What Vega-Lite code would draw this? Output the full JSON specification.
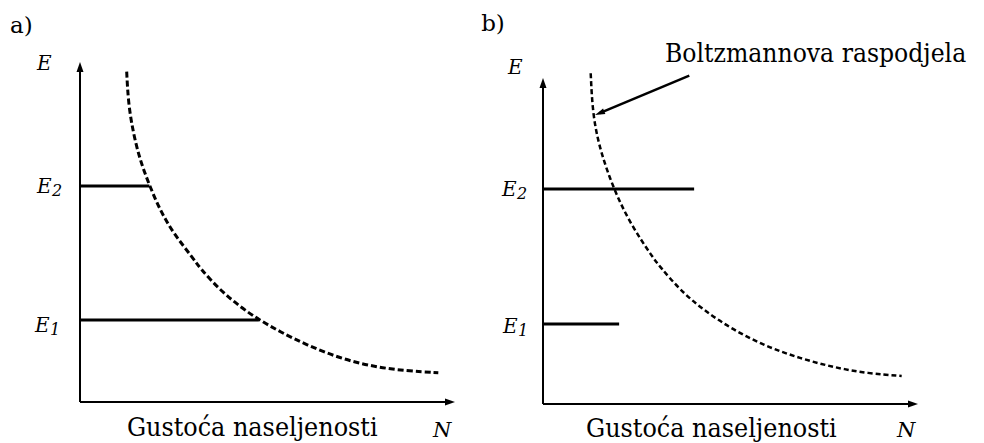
{
  "$schema": "https://vega.github.io/schema/vega-lite/v6.json",
  "padding": 0,
  "spacing": 0,
  "background": "white",
  "config": {"view": {"stroke": null}, "text": {"color": "black"}},
  "datasets": {
    "curve": [
      {"panel": "a", "N": 1.245, "E": 9.715},
      {"panel": "a", "N": 1.288, "E": 8.785},
      {"panel": "a", "N": 1.421, "E": 7.903},
      {"panel": "a", "N": 1.6, "E": 7.118},
      {"panel": "a", "N": 1.848, "E": 6.382},
      {"panel": "a", "N": 2.133, "E": 5.647},
      {"panel": "a", "N": 2.488, "E": 4.962},
      {"panel": "a", "N": 3.021, "E": 4.226},
      {"panel": "a", "N": 3.2, "E": 3.932},
      {"panel": "a", "N": 3.733, "E": 3.294},
      {"panel": "a", "N": 4.267, "E": 2.803},
      {"panel": "a", "N": 4.781, "E": 2.412},
      {"panel": "a", "N": 5.333, "E": 2.068},
      {"panel": "a", "N": 6.045, "E": 1.676},
      {"panel": "a", "N": 6.933, "E": 1.285},
      {"panel": "a", "N": 7.821, "E": 1.038},
      {"panel": "a", "N": 8.712, "E": 0.912},
      {"panel": "a", "N": 9.555, "E": 0.862},
      {"panel": "b", "N": 1.272, "E": 10.144},
      {"panel": "b", "N": 1.325, "E": 8.865},
      {"panel": "b", "N": 1.52, "E": 7.791},
      {"panel": "b", "N": 1.875, "E": 6.617},
      {"panel": "b", "N": 2.32, "E": 5.543},
      {"panel": "b", "N": 2.941, "E": 4.469},
      {"panel": "b", "N": 3.12, "E": 4.212},
      {"panel": "b", "N": 3.653, "E": 3.497},
      {"panel": "b", "N": 4.275, "E": 2.883},
      {"panel": "b", "N": 5.075, "E": 2.27},
      {"panel": "b", "N": 5.965, "E": 1.758},
      {"panel": "b", "N": 6.853, "E": 1.402},
      {"panel": "b", "N": 7.741, "E": 1.126},
      {"panel": "b", "N": 8.632, "E": 0.942},
      {"panel": "b", "N": 9.565, "E": 0.859}
    ],
    "levels": [
      {"panel": "a", "level": "E2", "N": 0, "Nend": 1.85, "E": 6.35, "Eend": 6.35},
      {"panel": "a", "level": "E1", "N": 0, "Nend": 4.77, "E": 2.41, "Eend": 2.41},
      {"panel": "b", "level": "E2", "N": 0, "Nend": 4.03, "E": 6.595, "Eend": 6.595},
      {"panel": "b", "level": "E1", "N": 0, "Nend": 2.03, "E": 2.454, "Eend": 2.454}
    ],
    "axes": [
      {"panel": "a", "axis": "E", "N": 0, "E": 0, "Nend": 0, "Eend": 9.85},
      {"panel": "a", "axis": "N", "N": 0, "E": 0, "Nend": 9.87, "Eend": 0},
      {"panel": "b", "axis": "E", "N": 0, "E": 0, "Nend": 0, "Eend": 9.85},
      {"panel": "b", "axis": "N", "N": 0, "E": 0, "Nend": 9.87, "Eend": 0}
    ],
    "heads": [
      {"panel": "a", "axis": "E", "N": 0, "E": 9.853},
      {"panel": "a", "axis": "N", "N": 9.867, "E": 0},
      {"panel": "b", "axis": "E", "N": 0, "E": 9.847},
      {"panel": "b", "axis": "N", "N": 9.867, "E": 0}
    ],
    "pointer": [
      {"panel": "b", "N": 3.901, "E": 10.07, "Nend": 1.51, "Eend": 8.924}
    ],
    "pointerHead": [
      {"panel": "b", "N": 1.51, "E": 8.924}
    ],
    "texts": [
      {"panel": "a", "role": "panel", "text": "a)", "N": -1.867, "E": 10.85},
      {"panel": "a", "role": "axis", "text": "E", "N": -1.147, "E": 9.76},
      {"panel": "a", "role": "axisN", "text": "N", "N": 9.41, "E": -1.03},
      {"panel": "a", "role": "title", "text": "Gustoća naseljenosti", "N": 1.25, "E": -1.0},
      {"panel": "a", "role": "level", "text": "E", "sub": "2", "N": -1.147, "E": 6.147},
      {"panel": "a", "role": "level", "text": "E", "sub": "1", "N": -1.2, "E": 2.06},
      {"panel": "b", "role": "panel", "text": "b)", "N": -1.65, "E": 11.44},
      {"panel": "b", "role": "axis", "text": "E", "N": -0.933, "E": 10.12},
      {"panel": "b", "role": "axisN", "text": "N", "N": 9.44, "E": -1.01},
      {"panel": "b", "role": "title", "text": "Gustoća naseljenosti", "N": 1.147, "E": -1.012},
      {"panel": "b", "role": "note", "text": "Boltzmannova raspodjela", "N": 3.253, "E": 10.49},
      {"panel": "b", "role": "level", "text": "E", "sub": "2", "N": -1.093, "E": 6.38},
      {"panel": "b", "role": "level", "text": "E", "sub": "1", "N": -1.067, "E": 2.18}
    ]
  },
  "hconcat": [
    {
      "width": 480,
      "height": 443,
      "encoding": {
        "x": {"field": "N", "type": "quantitative", "scale": {"domain": [0, 10], "range": [80, 455], "nice": false, "zero": false}, "axis": null},
        "y": {"field": "E", "type": "quantitative", "scale": {"domain": [0, 10], "range": [402, 62], "nice": false, "zero": false}, "axis": null}
      },
      "layer": [
        {"data": {"name": "axes"}, "transform": [{"filter": "datum.panel === 'a'"}], "mark": {"type": "rule", "color": "black", "strokeWidth": 2}, "encoding": {"x2": {"field": "Nend"}, "y2": {"field": "Eend"}}},
        {"data": {"name": "heads"}, "transform": [{"filter": "datum.panel === 'a' && datum.axis === 'E'"}], "mark": {"type": "point", "shape": "M0,-1L0.7,1L-0.7,1Z", "filled": true, "size": 100, "color": "black", "opacity": 1}},
        {"data": {"name": "heads"}, "transform": [{"filter": "datum.panel === 'a' && datum.axis === 'N'"}], "mark": {"type": "point", "shape": "M1,0L-1,-0.7L-1,0.7Z", "filled": true, "size": 100, "color": "black", "opacity": 1}},
        {"data": {"name": "levels"}, "transform": [{"filter": "datum.panel === 'a'"}], "mark": {"type": "rule", "color": "black", "strokeWidth": 3}, "encoding": {"x2": {"field": "Nend"}, "y2": {"field": "Eend"}}},
        {"data": {"name": "curve"}, "transform": [{"filter": "datum.panel === 'a'"}], "mark": {"type": "line", "color": "black", "strokeWidth": 3, "strokeDash": [6, 3], "interpolate": "basis"}},
        {"data": {"name": "texts"}, "transform": [{"filter": "datum.panel === 'a' && datum.role === 'panel'"}], "mark": {"type": "text", "font": "DejaVu Serif", "align": "left", "baseline": "alphabetic", "fontSize": 23}, "encoding": {"text": {"field": "text"}}},
        {"data": {"name": "texts"}, "transform": [{"filter": "datum.panel === 'a' && datum.role === 'title'"}], "mark": {"type": "text", "font": "DejaVu Serif Condensed", "align": "left", "baseline": "alphabetic", "fontSize": 26.6}, "encoding": {"text": {"field": "text"}}},
        {"data": {"name": "texts"}, "transform": [{"filter": "datum.panel === 'a' && (datum.role === 'axis' || datum.role === 'level')"}], "mark": {"type": "text", "font": "DejaVu Serif", "align": "left", "baseline": "alphabetic", "fontSize": 20, "fontStyle": "italic"}, "encoding": {"text": {"field": "text"}}},
        {"data": {"name": "texts"}, "transform": [{"filter": "datum.panel === 'a' && datum.role === 'axisN'"}], "mark": {"type": "text", "font": "DejaVu Serif", "align": "left", "baseline": "alphabetic", "fontSize": 21, "fontStyle": "italic"}, "encoding": {"text": {"field": "text"}}},
        {"data": {"name": "texts"}, "transform": [{"filter": "datum.panel === 'a' && datum.role === 'level'"}], "mark": {"type": "text", "font": "DejaVu Serif", "align": "left", "baseline": "alphabetic", "fontSize": 16, "fontStyle": "italic", "dx": 15, "dy": 3}, "encoding": {"text": {"field": "sub"}}}
      ]
    },
    {
      "width": 504,
      "height": 443,
      "encoding": {
        "x": {"field": "N", "type": "quantitative", "scale": {"domain": [0, 10], "range": [63, 438], "nice": false, "zero": false}, "axis": null},
        "y": {"field": "E", "type": "quantitative", "scale": {"domain": [0, 10], "range": [404, 78], "nice": false, "zero": false}, "axis": null}
      },
      "layer": [
        {"data": {"name": "axes"}, "transform": [{"filter": "datum.panel === 'b'"}], "mark": {"type": "rule", "color": "black", "strokeWidth": 2}, "encoding": {"x2": {"field": "Nend"}, "y2": {"field": "Eend"}}},
        {"data": {"name": "heads"}, "transform": [{"filter": "datum.panel === 'b' && datum.axis === 'E'"}], "mark": {"type": "point", "shape": "M0,-1L0.7,1L-0.7,1Z", "filled": true, "size": 100, "color": "black", "opacity": 1}},
        {"data": {"name": "heads"}, "transform": [{"filter": "datum.panel === 'b' && datum.axis === 'N'"}], "mark": {"type": "point", "shape": "M1,0L-1,-0.7L-1,0.7Z", "filled": true, "size": 100, "color": "black", "opacity": 1}},
        {"data": {"name": "levels"}, "transform": [{"filter": "datum.panel === 'b'"}], "mark": {"type": "rule", "color": "black", "strokeWidth": 3}, "encoding": {"x2": {"field": "Nend"}, "y2": {"field": "Eend"}}},
        {"data": {"name": "curve"}, "transform": [{"filter": "datum.panel === 'b'"}], "mark": {"type": "line", "color": "black", "strokeWidth": 2.5, "strokeDash": [5, 3], "interpolate": "basis"}},
        {"data": {"name": "pointer"}, "mark": {"type": "rule", "color": "black", "strokeWidth": 2.5}, "encoding": {"x2": {"field": "Nend"}, "y2": {"field": "Eend"}}},
        {"data": {"name": "pointerHead"}, "mark": {"type": "point", "shape": "M0,-1L0.6,1L-0.6,1Z", "filled": true, "size": 100, "angle": 247.4, "color": "black", "opacity": 1}},
        {"data": {"name": "texts"}, "transform": [{"filter": "datum.panel === 'b' && datum.role === 'panel'"}], "mark": {"type": "text", "font": "DejaVu Serif", "align": "left", "baseline": "alphabetic", "fontSize": 23}, "encoding": {"text": {"field": "text"}}},
        {"data": {"name": "texts"}, "transform": [{"filter": "datum.panel === 'b' && datum.role === 'title'"}], "mark": {"type": "text", "font": "DejaVu Serif Condensed", "align": "left", "baseline": "alphabetic", "fontSize": 26.6}, "encoding": {"text": {"field": "text"}}},
        {"data": {"name": "texts"}, "transform": [{"filter": "datum.panel === 'b' && datum.role === 'note'"}], "mark": {"type": "text", "font": "DejaVu Serif Condensed", "align": "left", "baseline": "alphabetic", "fontSize": 26.2}, "encoding": {"text": {"field": "text"}}},
        {"data": {"name": "texts"}, "transform": [{"filter": "datum.panel === 'b' && (datum.role === 'axis' || datum.role === 'level')"}], "mark": {"type": "text", "font": "DejaVu Serif", "align": "left", "baseline": "alphabetic", "fontSize": 20, "fontStyle": "italic"}, "encoding": {"text": {"field": "text"}}},
        {"data": {"name": "texts"}, "transform": [{"filter": "datum.panel === 'b' && datum.role === 'axisN'"}], "mark": {"type": "text", "font": "DejaVu Serif", "align": "left", "baseline": "alphabetic", "fontSize": 21, "fontStyle": "italic"}, "encoding": {"text": {"field": "text"}}},
        {"data": {"name": "texts"}, "transform": [{"filter": "datum.panel === 'b' && datum.role === 'level'"}], "mark": {"type": "text", "font": "DejaVu Serif", "align": "left", "baseline": "alphabetic", "fontSize": 16, "fontStyle": "italic", "dx": 15, "dy": 3}, "encoding": {"text": {"field": "sub"}}}
      ]
    }
  ]
}
